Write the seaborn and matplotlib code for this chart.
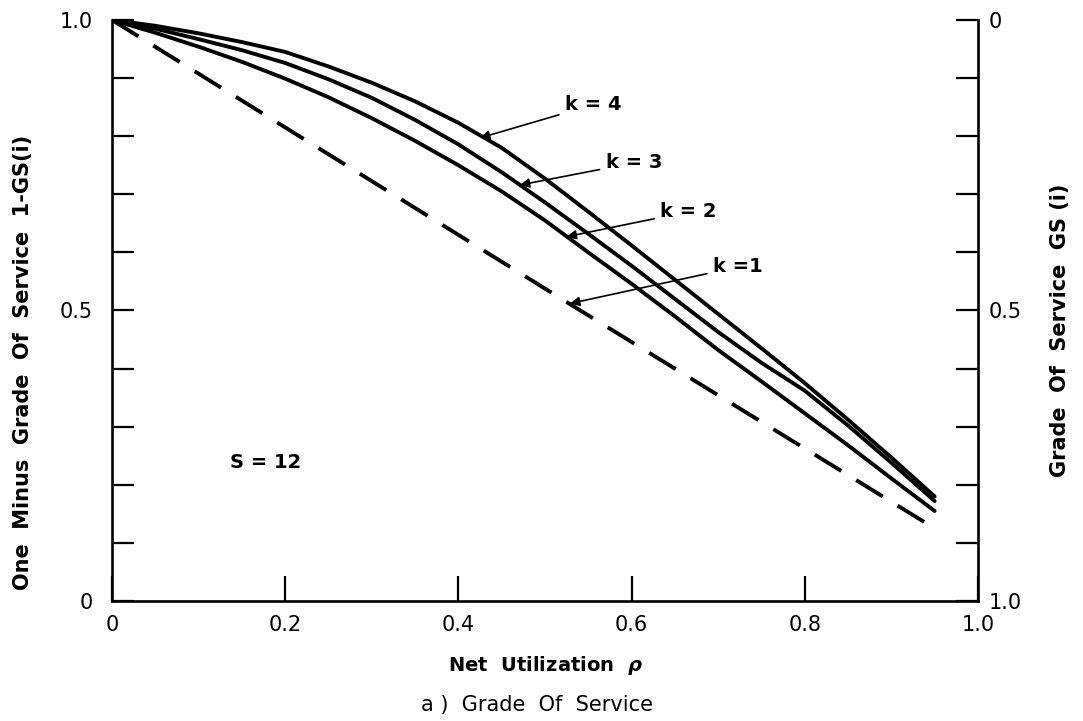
import matplotlib
matplotlib.use('Agg')
import matplotlib.pyplot as plt
import seaborn as sns

# values (x = net utilization rho)
rho = [0.0, 0.05, 0.1, 0.15, 0.2, 0.25, 0.3, 0.35, 0.4, 0.45,
       0.5, 0.55, 0.6, 0.65, 0.7, 0.75, 0.8, 0.85, 0.9, 0.95]
k4 = [1.0, 0.990, 0.977, 0.962, 0.945, 0.920, 0.892, 0.860, 0.823, 0.780,
      0.727, 0.670, 0.612, 0.553, 0.494, 0.435, 0.375, 0.312, 0.247, 0.180]
k3 = [1.0, 0.985, 0.967, 0.948, 0.926, 0.898, 0.866, 0.828, 0.786, 0.738,
      0.686, 0.632, 0.577, 0.520, 0.463, 0.410, 0.362, 0.302, 0.238, 0.172]
k2 = [1.0, 0.978, 0.954, 0.928, 0.899, 0.867, 0.831, 0.792, 0.750, 0.705,
      0.655, 0.600, 0.546, 0.490, 0.432, 0.378, 0.323, 0.268, 0.211, 0.155]
rho_k1 = [0.0, 0.53, 0.95]
k1 = [1.0, 0.51, 0.125]

x_ticks = [0.0, 0.2, 0.4, 0.6, 0.8, 1.0]
x_tick_labels = ['0', '0.2', '0.4', '0.6', '0.8', '1.0']
y_ticks = [i / 10 for i in range(11)]
left_tick_labels = ['0', '', '', '', '', '0.5', '', '', '', '', '1.0']
right_tick_labels = ['0', '', '', '', '', '0.5', '', '', '', '', '1.0']

# curve labels: (text, text position, arrow tip)
curve_notes = [
    ('k = 4', (0.523, 0.854), (0.425, 0.797)),
    ('k = 3', (0.570, 0.754), (0.471, 0.716)),
    ('k = 2', (0.633, 0.670), (0.525, 0.627)),
    ('k =1', (0.694, 0.575), (0.529, 0.512)),
]

sns.set_style('ticks')
plt.rcParams['font.family'] = ['DejaVu Sans']
plt.rcParams['axes.linewidth'] = 1.9
plt.rcParams['text.color'] = 'black'
plt.rcParams['axes.labelcolor'] = 'black'
plt.rcParams['axes.edgecolor'] = 'black'
plt.rcParams['xtick.color'] = 'black'
plt.rcParams['ytick.color'] = 'black'

fig = plt.figure(figsize=(10.83, 7.21), dpi=100)
ax = fig.add_axes([0.1034, 0.1664, 0.7996, 0.8059])

for ys in (k4, k3, k2):
    sns.lineplot(x=rho, y=ys, ax=ax, color='black', lw=2.8, sort=False, estimator=None)
sns.lineplot(x=rho_k1, y=k1, ax=ax, color='black', lw=2.8, sort=False, estimator=None,
             linestyle=(0, (8, 4.5)))

ax.set_xlim(0, 1.0)
ax.set_ylim(0, 1.0)
ax.spines['top'].set_visible(False)
ax.spines['right'].set_visible(False)

ax.set_xticks(x_ticks)
ax.set_xticklabels(x_tick_labels)
ax.set_yticks(y_ticks)
ax.set_yticklabels(left_tick_labels)
ax.tick_params(axis='x', direction='in', length=18, width=1.6, pad=10, labelsize=15)
ax.tick_params(axis='y', direction='in', length=16, width=1.6, pad=14, labelsize=15)

ax.set_xlabel(r'Net  Utilization  $\boldsymbol{\rho}$', fontsize=14, fontweight='bold', labelpad=14)
ax.set_ylabel('One  Minus  Grade  Of  Service  1-GS(i)', fontsize=15, fontweight='bold')
ax.yaxis.set_label_coords(-0.091, 0.41)

ax2 = ax.twinx()
ax2.set_ylim(1.0, 0)
ax2.set_yticks(y_ticks)
ax2.set_yticklabels(right_tick_labels)
for side in ('top', 'left', 'bottom'):
    ax2.spines[side].set_visible(False)
ax2.tick_params(axis='y', direction='in', length=16, width=1.6, pad=8, labelsize=15)
ax2.set_ylabel('Grade  Of  Service  GS (i)', fontsize=15, fontweight='bold')
ax2.yaxis.set_label_coords(1.083, 0.466)

for text, xy_text, tip in curve_notes:
    ax.annotate(text, xy=tip, xytext=xy_text, fontsize=14, fontweight='bold',
                ha='left', va='center',
                arrowprops=dict(arrowstyle='-|>', color='black', lw=1.2, mutation_scale=14,
                                shrinkA=2, shrinkB=0))

ax.text(0.177, 0.239, 'S = 12', fontsize=14, fontweight='bold', ha='center', va='center')

fig.text(0.496, 0.022, 'a )  Grade  Of  Service', fontsize=15, ha='center', va='center')

fig.savefig('out.png', dpi=100)
